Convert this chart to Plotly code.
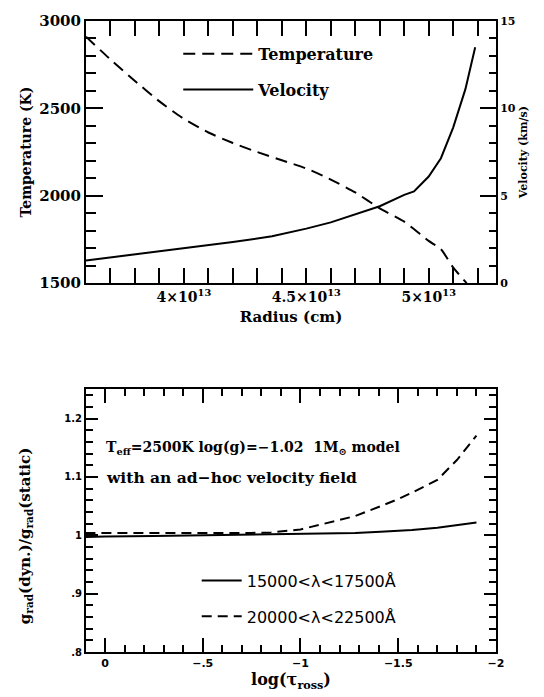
import plotly.graph_objects as go

# ---- top panel data ----
radius_T = [3.60e13, 3.70e13, 3.80e13, 3.90e13, 4.00e13, 4.10e13, 4.20e13, 4.30e13, 4.40e13,
            4.50e13, 4.60e13, 4.70e13, 4.80e13, 4.90e13, 5.00e13, 5.05e13, 5.10e13, 5.155e13]
temperature = [2910, 2780, 2657, 2540, 2440, 2362, 2302, 2250, 2203,
               2156, 2093, 2019, 1928, 1852, 1742, 1694, 1590, 1500]

radius_v = [3.60e13, 3.77e13, 4.00e13, 4.20e13, 4.36e13, 4.50e13, 4.60e13, 4.70e13, 4.80e13,
            4.90e13, 4.94e13, 5.00e13, 5.05e13, 5.10e13, 5.15e13, 5.19e13]
velocity = [1.3, 1.6, 2.0, 2.35, 2.68, 3.12, 3.48, 3.92, 4.4,
            5.05, 5.25, 6.1, 7.15, 8.9, 11.1, 13.5]

# ---- bottom panel data ----
logtau = [0.1, 0.0, -0.25, -0.5, -0.75, -0.85, -1.0, -1.11, -1.2, -1.28, -1.41, -1.5,
          -1.57, -1.7, -1.8, -1.9]
ratio_15000 = [0.997, 0.998, 0.999, 1.0, 1.001, 1.002, 1.002, 1.003, 1.004, 1.004, 1.006, 1.007,
               1.009, 1.013, 1.017, 1.022]
ratio_20000 = [1.004, 1.004, 1.003, 1.003, 1.004, 1.005, 1.010, 1.019, 1.026, 1.033, 1.050, 1.062,
               1.073, 1.095, 1.129, 1.171]

# tick label aliases (display text as in the original figure)
logtau_alias = {"−0.5": "−.5", "-0.5": "−.5"}
ratio_alias = {"0.8": ".8", "0.9": ".9"}

SERIF = "DejaVu Serif"
SANS = "DejaVu Sans"
BLACK = "black"

fig = go.Figure()

fig.add_trace(go.Scatter(x=radius_T, y=temperature, mode="lines", name="Temperature",
                         line=dict(color=BLACK, width=2, dash="12px,7px", shape="spline", smoothing=0.6),
                         xaxis="x", yaxis="y", legend="legend", legendgroup="a"))
fig.add_trace(go.Scatter(x=radius_v, y=velocity, mode="lines", name="Velocity",
                         line=dict(color=BLACK, width=2),
                         xaxis="x", yaxis="y2", legend="legend", legendgroup="b"))

fig.add_trace(go.Scatter(x=logtau, y=ratio_15000, mode="lines", name="15000<λ<17500Å",
                         line=dict(color=BLACK, width=2),
                         xaxis="x2", yaxis="y3", legend="legend2", legendgroup="c"))
fig.add_trace(go.Scatter(x=logtau, y=ratio_20000, mode="lines", name="20000<λ<22500Å",
                         line=dict(color=BLACK, width=2, dash="10px,6px"),
                         xaxis="x2", yaxis="y3", legend="legend2", legendgroup="d"))

top_dom = [0.5845, 1.0]
bot_dom = [0.0, 0.417]


def minor(dtick, tick0, length=7):
    return dict(ticks="inside", ticklen=length, tickmode="linear", dtick=dtick, tick0=tick0,
                tickcolor=BLACK, tickwidth=1.5)


line_style = dict(showline=True, linecolor=BLACK, linewidth=2, showgrid=False, zeroline=False,
                  ticks="inside", tickwidth=1.5, tickcolor=BLACK, tickmode="linear")

fig.update_layout(
    width=544, height=697,
    margin=dict(l=86, r=48, t=19, b=45),
    plot_bgcolor="white", paper_bgcolor="white",
    legend=dict(x=0.225, y=0.975, xanchor="left", yanchor="top", bgcolor="rgba(0,0,0,0)",
                font=dict(family=SERIF, size=16, color=BLACK, weight="bold"),
                itemwidth=70, tracegroupgap=12, traceorder="grouped"),
    legend2=dict(x=0.27, y=0.14, xanchor="left", yanchor="top", bgcolor="rgba(0,0,0,0)",
                 font=dict(family=SANS, size=16, color=BLACK),
                 itemwidth=40, tracegroupgap=12, traceorder="grouped"),
    annotations=[
        dict(xref="x2 domain", yref="y3 domain", x=0.045, y=0.775, xanchor="left", yanchor="middle",
             showarrow=False,
             text="T<sub>eff</sub>=2500K log(g)=−1.02  1M<sub>⊙</sub> model",
             font=dict(family=SERIF, size=14, color=BLACK, weight="bold")),
        dict(xref="x2 domain", yref="y3 domain", x=0.045, y=0.662, xanchor="left", yanchor="middle",
             showarrow=False, text="with an ad−hoc velocity field",
             font=dict(family=SERIF, size=15.5, color=BLACK, weight="bold")),
        dict(xref="x2 domain", yref="y3 domain", x=-0.149, y=0.44, xanchor="center", yanchor="middle",
             showarrow=False, textangle=-90,
             text="g<sub>rad</sub>(dyn.)/g<sub>rad</sub>(static)",
             font=dict(family=SERIF, size=15, color=BLACK, weight="bold")),
    ],
    xaxis=dict(**line_style, domain=[0, 1], anchor="y", range=[3.6e13, 5.275e13],
               tick0=4e13, dtick=5e12, ticklen=15, mirror="allticks",
               exponentformat="power", showexponent="all",
               minor=minor(1e12, 3.6e13),
               tickfont=dict(family=SERIF, size=14, color=BLACK, weight="bold"),
               title=dict(text="Radius (cm)", standoff=8,
                          font=dict(family=SERIF, size=15, color=BLACK, weight="bold"))),
    yaxis=dict(**line_style, domain=top_dom, anchor="x", range=[1500, 3000],
               tick0=1500, dtick=500, tickformat="d", ticklen=17, minor=minor(100, 1500, 10),
               tickfont=dict(family=SERIF, size=15, color=BLACK, weight="bold"),
               title=dict(text="Temperature (K)", standoff=4,
                          font=dict(family=SERIF, size=14, color=BLACK, weight="bold"))),
    yaxis2=dict(**line_style, overlaying="y", side="right", anchor="x", range=[0, 15],
                tick0=0, dtick=5, ticklen=16, minor=minor(1, 0),
                tickfont=dict(family=SERIF, size=11, color=BLACK, weight="bold"),
                title=dict(text="Velocity (km/s)", standoff=4,
                           font=dict(family=SERIF, size=11, color=BLACK, weight="bold"))),
    xaxis2=dict(**line_style, domain=[0, 1], anchor="y3", range=[0.097, -2.0],
                tick0=0, dtick=0.5, labelalias=logtau_alias, ticklen=14, mirror="allticks",
                minor=minor(0.1, 0),
                tickfont=dict(family=SANS, size=11, color=BLACK, weight="bold"),
                title=dict(text="log(τ<sub>ross</sub>)", standoff=2,
                           font=dict(family=SERIF, size=16, color=BLACK, weight="bold"))),
    yaxis3=dict(**line_style, domain=bot_dom, anchor="x2", range=[0.8, 1.251],
                tick0=0.8, dtick=0.1, labelalias=ratio_alias, ticklen=12, mirror="allticks",
                minor=minor(0.02, 0.8),
                tickfont=dict(family=SANS, size=10, color=BLACK, weight="bold")),
)

fig.write_html("out.html")
